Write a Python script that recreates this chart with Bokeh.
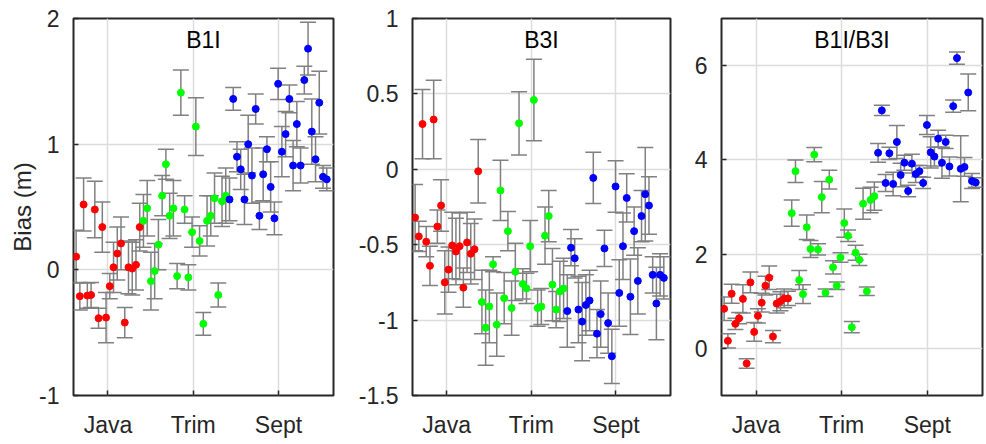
from bokeh.plotting import figure
from bokeh.layouts import row
from bokeh.models import (Range1d, FixedTicker, Whisker, TeeHead, ColumnDataSource, Label)
from bokeh.embed import file_html
from bokeh.resources import INLINE

# ---------------- data ----------------
# point index along the x axis for each group
red_x = list(range(1, 19))
green_x = list(range(19, 42))
blue_x = list(range(42, 69))

x_tick_pos = [9.5, 32.3, 55.1]
x_tick_labels = ["Java", "Trim", "Sept"]

# B1I
b1_red = [0.105, -0.21, 0.52, -0.205, -0.20, 0.48, -0.385, 0.34, -0.38, -0.13, 0.02, 0.13,
          0.21, -0.42, 0.02, 0.01, 0.04, 0.34]
b1_red_err = [0.21, 0.11, 0.21, 0.10, 0.10, 0.225, 0.08, 0.2, 0.2, 0.1, 0.2, 0.21, 0.21,
              0.12, 0.21, 0.21, 0.2, 0.19]
b1_green = [0.39, 0.49, -0.09, -0.01, 0.20, 0.59, 0.84, 0.43, 0.49, -0.05, 1.41, 0.48,
            -0.06, 0.30, 1.14, 0.23, -0.43, 0.39, 0.43, 0.57, -0.20, 0.545, 0.59]
b1_green_err = [0.21, 0.22, 0.23, 0.22, 0.20, 0.16, 0.12, 0.18, 0.22, 0.10, 0.18, 0.11,
                0.10, 0.12, 0.23, 0.12, 0.09, 0.2, 0.16, 0.2, 0.095, 0.2, 0.22]
b1_blue = [0.56, 1.36, 0.90, 0.80, 0.56, 1.00, 0.75, 1.28, 0.43, 0.76, 0.96, 0.66, 0.41,
           1.48, 0.94, 1.08, 1.36, 0.83, 1.16, 0.83, 1.51, 1.76, 1.10, 0.88, 1.33, 0.74, 0.72]
b1_blue_err = [0.17, 0.09, 0.12, 0.16, 0.2, 0.23, 0.22, 0.12, 0.11, 0.21, 0.1, 0.2, 0.13,
               0.125, 0.2, 0.18, 0.11, 0.2, 0.18, 0.14, 0.11, 0.21, 0.26, 0.18, 0.25, 0.09, 0.09]

# B3I
b3_red = [-0.32, -0.445, 0.30, -0.48, -0.64, 0.33, -0.38, -0.24, -0.75, -0.665, -0.505,
          -0.545, -0.51, -0.785, -0.485, -0.56, -0.53, -0.013]
b3_red_err = [0.22, 0.1, 0.23, 0.1, 0.13, 0.26, 0.11, 0.17, 0.21, 0.15, 0.22, 0.22, 0.22,
              0.13, 0.2, 0.2, 0.2, 0.21]
b3_green = [-0.88, -1.05, -0.91, -0.63, -1.03, -0.14, -0.855, -0.41, -0.92, -0.68, 0.305,
            -0.76, -0.79, -0.51, 0.46, -0.92, -0.91, -0.44, -0.31, -0.765, -0.93, -0.81, -0.79]
b3_green_err = [0.21, 0.25, 0.24, 0.05, 0.21, 0.2, 0.17, 0.13, 0.18, 0.19, 0.21, 0.1, 0.1,
                0.17, 0.27, 0.12, 0.12, 0.19, 0.17, 0.24, 0.12, 0.2, 0.2]
b3_blue = [-0.94, -0.52, -0.59, -0.93, -1.01, -0.90, -0.87, -0.057, -1.09, -0.96, -0.525,
           -1.02, -1.24, -0.114, -0.82, -0.51, -0.19, -0.845, -0.41, -0.74, -0.31, -0.165,
           -0.24, -0.70, -0.89, -0.70, -0.72]
b3_blue_err = [0.24, 0.12, 0.13, 0.22, 0.26, 0.2, 0.2, 0.17, 0.16, 0.22, 0.12, 0.2, 0.18,
               0.17, 0.22, 0.22, 0.16, 0.25, 0.16, 0.22, 0.17, 0.31, 0.19, 0.12, 0.24, 0.14, 0.14]

# B1I/B3I
b13_red = [0.84, 0.16, 1.16, 0.52, 0.64, 1.05, -0.32, 1.40, 0.35, 0.69, 0.97, 1.33, 1.50,
           0.25, 0.95, 1.0, 1.06, 1.06]
b13_red_err = [0.25, 0.15, 0.2, 0.12, 0.12, 0.3, 0.1, 0.22, 0.2, 0.15, 0.2, 0.2, 0.25, 0.13,
               0.2, 0.2, 0.2, 0.15]
b13_green = [2.87, 3.76, 1.45, 1.15, 2.57, 2.11, 4.11, 2.10, 3.21, 1.18, 3.58, 1.72, 1.33,
             1.93, 2.66, 2.39, 0.45, 2.03, 1.88, 3.07, 1.21, 3.15, 3.23]
b13_green_err = [0.28, 0.24, 0.2, 0.2, 0.26, 0.18, 0.15, 0.12, 0.33, 0.08, 0.2, 0.14, 0.08,
                 0.1, 0.3, 0.12, 0.12, 0.16, 0.12, 0.33, 0.09, 0.27, 0.3]
b13_blue = [4.15, 5.05, 3.51, 4.14, 3.49, 4.38, 3.68, 3.94, 3.34, 3.92, 3.70, 3.76, 3.51,
            4.74, 4.16, 4.07, 4.45, 3.94, 4.38, 3.86, 5.14, 6.16, 3.81, 3.85, 5.43, 3.55, 3.52]
b13_blue_err = [0.2, 0.11, 0.18, 0.13, 0.25, 0.35, 0.25, 0.16, 0.12, 0.2, 0.18, 0.12, 0.12,
                0.2, 0.33, 0.2, 0.18, 0.33, 0.14, 0.2, 0.13, 0.13, 0.7, 0.2, 0.39, 0.16, 0.1]

# ---------------- styling ----------------
FONT = "Liberation Sans"
TXT = "#262626"
ERR = "#808080"
COLORS = ["#ff0000", "#00ff00", "#0000ff"]
X_RANGE = (0.3, 69.8)


def make_panel(title, yrange, yticks, groups, width, left, right, ylabel=None):
    p = figure(width=width, height=440, output_backend="svg", toolbar_location=None,
               x_range=Range1d(*X_RANGE), y_range=Range1d(*yrange),
               min_border_left=left, min_border_right=right,
               min_border_top=18, min_border_bottom=43)
    p.background_fill_color = "white"
    p.border_fill_color = "white"
    p.outline_line_color = "#262626"
    p.outline_line_width = 2

    xa = p.xaxis[0]
    xa.ticker = FixedTicker(ticks=x_tick_pos)
    xa.major_label_overrides = dict(zip(x_tick_pos, x_tick_labels))
    ya = p.yaxis[0]
    ya.ticker = FixedTicker(ticks=yticks)
    ya.major_label_overrides = {t: ("%g" % t) for t in yticks}
    for ax in (xa, ya):
        ax.axis_line_color = None
        ax.major_tick_in = 5
        ax.major_tick_out = 0
        ax.major_tick_line_color = TXT
        ax.major_tick_line_width = 1.5
        ax.minor_tick_line_color = None
        ax.major_label_text_font = FONT
        ax.major_label_text_font_size = "23px"
        ax.major_label_text_color = TXT
    xa.major_label_standoff = 16
    ya.major_label_standoff = 14
    if ylabel:
        ya.axis_label = ylabel
        ya.axis_label_text_font = FONT
        ya.axis_label_text_font_size = "24px"
        ya.axis_label_text_font_style = "normal"
        ya.axis_label_text_color = TXT
        ya.axis_label_standoff = 0

    p.xgrid.ticker = FixedTicker(ticks=x_tick_pos)
    p.ygrid.ticker = FixedTicker(ticks=yticks)
    for g in (p.xgrid[0], p.ygrid[0]):
        g.grid_line_color = "#dcdcdc"
        g.grid_line_width = 1.5

    srcs = []
    for (xs, ys, es) in groups:
        src = ColumnDataSource(dict(x=xs, y=ys,
                                    upper=[a + b for a, b in zip(ys, es)],
                                    lower=[a - b for a, b in zip(ys, es)]))
        srcs.append(src)
        w = Whisker(base="x", upper="upper", lower="lower", source=src,
                    line_color=ERR, line_width=1.5,
                    upper_head=TeeHead(size=16, line_color=ERR, line_width=1.5),
                    lower_head=TeeHead(size=16, line_color=ERR, line_width=1.5))
        p.add_layout(w)
    for src, c in zip(srcs, COLORS):
        p.scatter("x", "y", source=src, size=7, fill_color=c, line_color=c)

    lab = Label(x=sum(X_RANGE) / 2, y=yrange[1], text=title, text_align="center",
                text_baseline="top", y_offset=-8, text_font=FONT,
                text_font_size="23px", text_color="#000000")
    p.add_layout(lab)
    return p


p1 = make_panel("B1I", (-1, 2), [-1, 0, 1, 2],
                [(red_x, b1_red, b1_red_err), (green_x, b1_green, b1_green_err),
                 (blue_x, b1_blue, b1_blue_err)],
                width=340, left=73, right=7, ylabel="Bias (m)")
p2 = make_panel("B3I", (-1.5, 1), [-1.5, -1, -0.5, 0, 0.5, 1],
                [(red_x, b3_red, b3_red_err), (green_x, b3_green, b3_green_err),
                 (blue_x, b3_blue, b3_blue_err)],
                width=332, left=72, right=2)
p3 = make_panel("B1I/B3I", (-1, 7), [0, 2, 4, 6],
                [(red_x, b13_red, b13_red_err), (green_x, b13_green, b13_green_err),
                 (blue_x, b13_blue, b13_blue_err)],
                width=313, left=49, right=3)

layout = row(p1, p2, p3)
open("out.html", "w").write(file_html(layout, INLINE))
